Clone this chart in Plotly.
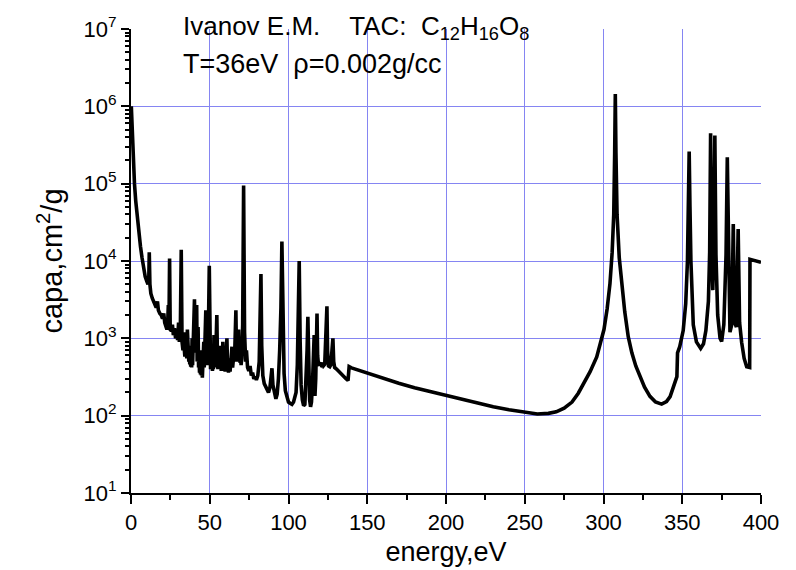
import plotly.graph_objects as go

# ---- spectrum (energy in eV, opacity capa in cm^2/g) ----
# segment 1: 0 - 33 eV
energy_1 = [0.2, 0.6, 1.0, 1.5, 2.2, 3.0, 4.0, 5.0, 6.0, 7.0, 8.0, 9.0, 10.0, 10.8, 11.3, 11.6, 12.0, 12.6,
            13.5, 14.5, 15.3, 16.0, 16.8, 17.4, 18.3, 19.2, 20.0, 20.8, 21.4, 22.2, 22.8, 23.3, 23.7, 24.1,
            24.5, 24.9, 25.6, 26.3, 26.9, 27.6, 28.3, 29.0, 29.6, 30.2, 30.7, 31.3, 31.9, 32.4]
capa_1 = [1.0e6, 6.0e5, 3.0e5, 1.5e5, 1.0e5, 6.0e4, 3.5e4, 2.3e4, 1.55e4, 1.1e4, 8.0e3, 6.3e3, 5.5e3, 5.0e3, 6.0e3, 1.3e4, 5.0e3, 3.8e3,
          3.3e3, 2.9e3, 2.6e3, 2.5e3, 3.0e3, 2.3e3, 2.1e3, 2.0e3, 1.8e3, 2.1e3, 1.6e3, 1.4e3, 1.3e3, 1.6e3, 2.7e3, 1.4e3,
          1.08e4, 1.3e3, 1.25e3, 1.5e3, 1.1e3, 1.35e3, 1.0e3, 1.2e3, 950, 1.6e3, 900, 1.2e3, 1.4e4, 900]

# segment 2: 33 - 71.5 eV (dense line region)
energy_2 = [33.0, 33.3, 33.6, 33.9, 34.2, 34.5, 34.8, 35.1, 35.4, 35.8,
            36.1, 36.4, 36.7, 37.0, 37.3, 37.6, 37.9, 38.2, 38.5, 38.8,
            39.1, 39.4, 39.8, 40.3, 40.7, 41.0, 41.3, 41.7, 42.0, 42.3,
            42.6, 42.9, 43.2, 43.5, 43.8, 44.1, 44.4, 44.7, 45.0, 45.3,
            45.6, 45.9, 46.2, 46.5, 46.8, 47.1, 47.5, 47.9, 48.2, 48.5,
            48.8, 49.2, 49.7, 50.2, 50.5, 50.8, 51.1, 51.4, 51.7, 52.0,
            52.3, 52.7, 53.0, 53.3, 53.6, 54.0, 54.5, 54.9, 55.2, 55.5,
            55.8, 56.1, 56.4, 56.7, 57.0, 57.3, 57.6, 58.0, 58.3, 58.6,
            58.9, 59.2, 59.5, 59.8, 60.2, 60.6, 60.9, 61.3, 61.6, 61.9,
            62.2, 62.6, 62.9, 63.2, 63.5, 63.8, 64.1, 64.5, 64.8, 65.1,
            65.4, 65.7, 66.0, 66.6, 67.0, 67.3, 67.6, 67.9, 68.3, 68.7,
            69.0, 69.3, 69.6, 69.9, 70.3, 70.9, 71.5]
capa_2 = [700, 1000, 650, 900, 580, 1200, 600, 800, 550, 1300,
          600, 900, 500, 700, 460, 800, 430, 650, 420, 1000,
          450, 700, 1500, 3200, 650, 900, 1300, 2700, 500, 800,
          1400, 420, 600, 360, 550, 340, 700, 330, 500, 310,
          450, 380, 900, 420, 650, 1300, 2300, 480, 700, 450,
          600, 1500, 8700, 520, 400, 600, 420, 650, 380, 500,
          400, 1100, 450, 600, 420, 700, 2000, 500, 400, 550,
          400, 600, 800, 420, 500, 380, 480, 400, 900, 420,
          550, 380, 460, 370, 500, 700, 1000, 420, 520, 360,
          450, 550, 370, 480, 380, 600, 780, 420, 550, 450,
          650, 500, 900, 2300, 550, 700, 500, 800, 1300, 500,
          650, 480, 600, 450, 550, 1500, 9.5e4]

# segment 3: 72 - 100 eV
energy_3 = [72.1, 72.8, 73.3, 74.0, 74.8, 75.6, 76.4, 77.2, 78.0, 78.8, 79.6, 80.5, 81.4, 82.0, 82.5,
            83.0, 83.7, 84.6, 85.5, 86.4, 87.3, 88.2, 89.0, 89.5, 90.1, 91.0, 92.0, 92.8, 93.6, 94.4,
            95.2, 95.8, 96.4, 97.2, 98.0, 99.0, 100.0]
capa_3 = [1.2e3, 500, 700, 420, 380, 440, 330, 360, 300, 320, 290, 330, 500, 1.5e3, 6.8e3,
          800, 330, 260, 240, 220, 200, 230, 330, 410, 250, 190, 165, 190, 300, 700,
          2.5e3, 1.78e4, 1.5e3, 350, 210, 175, 150]

# segment 4: 100 - 139 eV
energy_4 = [101.0, 102.2, 103.2, 104.0, 104.8, 105.6, 106.2, 106.8, 107.4, 108.0, 108.8, 109.6, 110.4, 111.2,
            111.8, 112.3, 112.8, 113.4, 114.0, 114.6, 115.2, 115.8, 116.3, 116.8, 117.3, 117.8, 118.1, 118.5,
            119.0, 119.8, 120.6, 121.4, 122.2, 123.0, 123.7, 124.1, 124.4, 124.8, 125.4, 126.2, 127.0, 127.6,
            128.2, 128.7, 129.3, 130.5, 132.0, 133.5, 135.0, 136.5, 137.8, 138.5]
capa_4 = [145, 140, 150, 170, 200, 450, 1.5e3, 1.0e4, 900, 250, 160, 135, 140, 300,
          700, 1.9e3, 400, 160, 130, 150, 250, 800, 1.1e3, 180, 300, 1.0e3, 2.1e3, 600,
          460, 470, 450, 480, 440, 460, 900, 1.5e3, 2.6e3, 700, 440, 430, 460, 700,
          1.0e3, 500, 420, 400, 370, 345, 320, 300, 285, 430]

# segment 5: continuum and 300-400 eV lines
energy_5 = [140.0, 145.0, 150.0, 160.0, 170.0, 180.0, 190.0, 200.0, 210.0, 220.0, 230.0, 240.0, 250.0, 258.0,
            265.0, 270.0, 275.0, 280.0, 284.0, 287.5, 291.5, 295.7, 298.5, 300.3, 302.3, 304.1, 305.5, 306.5,
            307.1, 307.5, 307.9, 308.6, 310.0, 311.5, 313.5, 315.7, 318.0, 320.5, 323.2, 326.0, 329.5, 333.0,
            336.9, 340.0, 342.3, 344.0, 345.5, 346.6, 347.0, 348.4, 350.6, 352.2, 353.3, 353.9, 354.4, 354.9,
            355.5, 357.0, 359.0, 361.7, 363.5, 365.0, 366.6, 367.4, 368.0, 368.7, 369.4, 370.0, 370.7, 371.4,
            372.5, 374.0, 375.0, 376.4, 377.8, 378.6, 379.4, 380.3, 381.4, 382.4, 383.3, 384.4, 385.5, 386.4,
            387.7, 389.3, 390.9, 392.8, 393.0, 396.0, 400.0]
capa_5 = [415, 385, 355, 300, 262, 230, 205, 182, 162, 145, 130, 119, 111, 105,
          107, 112, 125, 150, 195, 265, 370, 575, 900, 1.3e3, 2.4e3, 5.1e3, 1.3e4, 4.0e4,
          2.5e5, 1.44e6, 2.5e5, 4.0e4, 1.1e4, 5.1e3, 2.2e3, 1.05e3, 650, 440, 316, 235, 178, 150,
          141, 152, 176, 220, 270, 320, 650, 780, 1.26e3, 2.8e3, 1.0e4, 5.0e4, 2.6e5, 5.0e4,
          1.0e4, 1.5e3, 900, 740, 850, 1.26e3, 3.0e3, 1.3e4, 4.5e5, 1.3e4, 4.2e3, 1.5e4, 4.2e5, 1.2e4,
          2.0e3, 1.0e3, 910, 1.5e3, 1.2e4, 2.2e5, 6.0e3, 1.2e3, 1.5e3, 3.0e4, 1.6e3, 1.4e3, 2.6e4, 1.6e3,
          890, 550, 430, 420, 1.05e4, 1.02e4, 9.6e3]

for e_seg, c_seg in [(energy_1, capa_1), (energy_2, capa_2), (energy_3, capa_3),
                     (energy_4, capa_4), (energy_5, capa_5)]:
    assert len(e_seg) == len(c_seg), (len(e_seg), len(c_seg))

energy = energy_1 + energy_2 + energy_3 + energy_4 + energy_5
capa = capa_1 + capa_2 + capa_3 + capa_4 + capa_5

# ---- axes ----
x_ticks = [0, 50, 100, 150, 200, 250, 300, 350, 400]
y_ticks = [1e1, 1e2, 1e3, 1e4, 1e5, 1e6, 1e7]
y_ticktext = ["10<sup>1</sup>", "10<sup>2</sup>", "10<sup>3</sup>", "10<sup>4</sup>",
              "10<sup>5</sup>", "10<sup>6</sup>", "10<sup>7</sup>"]
y_minor = [m * d for d in (1e1, 1e2, 1e3, 1e4, 1e5, 1e6) for m in (2, 3, 4, 5, 6, 7, 8, 9)]

GRID = "#8585f2"
FONT = "Liberation Sans, Arial, sans-serif"

fig = go.Figure(go.Scatter(x=energy, y=capa, mode="lines",
                           line=dict(color="black", width=3.6), hoverinfo="x+y"))

fig.update_layout(
    width=796, height=570,
    margin=dict(l=123, r=43, t=21, b=85),
    paper_bgcolor="white", plot_bgcolor="white",
    showlegend=False,
    font=dict(family=FONT, color="black", size=22),
)

fig.update_xaxes(
    range=[0, 400], tickmode="array", tickvals=x_ticks, automargin=False,
    ticks="outside", ticklen=9, tickwidth=2, tickcolor="black",
    minor=dict(dtick=25, tick0=0, ticks="outside", ticklen=5, tickwidth=2, tickcolor="black", showgrid=False),
    showline=True, linecolor="black", linewidth=2,
    showgrid=True, gridcolor=GRID, gridwidth=1, zeroline=False,
    tickfont=dict(size=22),
    title=dict(text="energy,eV", font=dict(size=27), standoff=8),
)
fig.update_yaxes(
    type="log", range=[1, 7], tickmode="array", tickvals=y_ticks, ticktext=y_ticktext, automargin=False,
    ticks="outside", ticklen=8, tickwidth=2, tickcolor="black",
    minor=dict(tickmode="array", tickvals=y_minor, ticks="outside", ticklen=4, tickwidth=1.5,
               tickcolor="black", showgrid=False),
    showline=True, linecolor="black", linewidth=2,
    showgrid=True, gridcolor=GRID, gridwidth=1, zeroline=False,
    tickfont=dict(size=22),
    title=dict(text="capa,cm<sup>2</sup>/g", font=dict(size=29), standoff=12),
)

# white panel behind the caption (hides the grid there)
fig.add_shape(type="rect", xref="paper", yref="paper", x0=0.003, x1=0.69, y0=0.862, y1=1.0,
              fillcolor="white", line=dict(width=0), layer="between")

fig.add_annotation(xref="paper", yref="paper", x=0.079, y=1.003, xanchor="left", yanchor="middle",
                   showarrow=False, font=dict(size=26, family=FONT),
                   text="Ivanov E.M.\u00a0\u00a0\u00a0\u00a0TAC:\u00a0\u00a0C<sub>12</sub>H<sub>16</sub>O<sub>8</sub>")
fig.add_annotation(xref="paper", yref="paper", x=0.079, y=0.925, xanchor="left", yanchor="middle",
                   showarrow=False, font=dict(size=27, family=FONT),
                   text="T=36eV\u00a0\u00a0\u03c1=0.002g/cc")

fig.write_html("out.html")
